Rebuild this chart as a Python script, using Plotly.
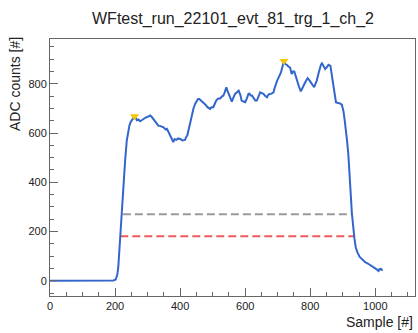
import plotly.graph_objects as go

# waveform samples (sample index, ADC counts)
wf_x = [0, 50, 100, 150, 195, 202, 207, 210, 213, 215, 218, 220, 223, 225, 228, 231, 236, 240, 244, 248,
        253, 257, 260, 264, 267, 272, 277, 282, 287, 293, 300, 308, 313, 318, 325, 333, 340, 349, 355, 359,
        364, 369, 374, 379, 383, 388, 394, 400, 407, 415, 419, 422, 429, 436, 441, 446, 451, 455, 459, 466,
        472, 478, 484, 492, 497, 502, 507, 511, 517, 523, 528, 533, 537, 542, 546, 549, 552, 556, 559, 564,
        569, 574, 580, 585, 589, 595, 600, 605, 610, 613, 617, 621, 625, 631, 636, 640, 646, 651, 656, 662,
        667, 671, 675, 681, 687, 691, 695, 699, 703, 707, 710, 713, 716, 719, 723, 728, 733, 738, 743, 747,
        751, 755, 759, 765, 771, 776, 782, 787, 792, 797, 802, 807, 812, 816, 820, 825, 829, 833, 836, 841,
        846, 851, 856, 862, 865, 867, 870, 872, 876, 879, 885, 890, 897, 902, 906, 910, 913, 917, 920, 923,
        925, 928, 933, 936, 940, 945, 952, 960, 969, 977, 985, 992, 997, 1002, 1007, 1010, 1013, 1017, 1020, 1023]
wf_y = [0, 1, -1, 0, 1, 5, 25, 57, 120, 181, 240, 270, 340, 400, 450, 490, 569, 605, 630, 645,
        657, 665, 668, 660, 652, 655, 648, 652, 658, 662, 666, 671, 665, 657, 645, 630, 628, 623, 615, 617,
        605, 590, 575, 563, 575, 572, 578, 576, 570, 572, 585, 590, 630, 678, 700, 718, 732, 738, 738, 730,
        725, 715, 705, 698, 705, 705, 720, 732, 740, 740, 748, 752, 765, 786, 770, 759, 755, 732, 728, 745,
        759, 765, 772, 755, 732, 728, 725, 740, 759, 760, 752, 752, 745, 732, 732, 748, 765, 762, 759, 750,
        745, 755, 759, 760, 765, 785, 806, 815, 826, 836, 846, 862, 880, 893, 880, 877, 870, 866, 840, 850,
        850, 830, 813, 790, 769, 785, 799, 812, 823, 815, 806, 795, 786, 800, 813, 840, 866, 878, 883, 872,
        860, 868, 877, 873, 850, 826, 806, 786, 755, 725, 722, 721, 715, 690, 650, 610, 570, 515, 461, 408,
        340, 273, 200, 170, 135, 115, 97, 85, 75, 70, 64, 58, 52, 48, 43, 40, 47, 48, 44, 45]

# peak markers
peak_x = [260, 719]
peak_y = [668, 893]

# threshold lines
gray_x = [224, 926]
gray_y = [270, 270]
red_x = [216, 936]
red_y = [181, 181]

title_text = "WFtest_run_22101_evt_81_trg_1_ch_2"
x_title = "Sample [#]"
y_title = "ADC counts [#]"

FONT = "Liberation Sans, Arial, Helvetica, sans-serif"

fig = go.Figure()
fig.add_trace(go.Scatter(x=gray_x, y=gray_y, mode="lines",
                         line=dict(color="#9a9a9a", width=2, dash="8px,4px"), hoverinfo="skip"))
fig.add_trace(go.Scatter(x=red_x, y=red_y, mode="lines",
                         line=dict(color="#f05a5a", width=2, dash="8px,4px"), hoverinfo="skip"))
fig.add_trace(go.Scatter(x=wf_x, y=wf_y, mode="lines",
                         line=dict(color="#3366cc", width=2)))
fig.add_trace(go.Scatter(x=peak_x, y=peak_y, mode="markers",
                         marker=dict(symbol="triangle-down", size=8, color="#f7c600",
                                     line=dict(width=0))))

axis_common = dict(
    showgrid=False, zeroline=False, showline=True, mirror=True,
    linecolor="#666666", linewidth=1,
    ticks="inside", ticklen=8, tickwidth=1, tickcolor="#666666",
    tickfont=dict(family=FONT, size=11, color="#222222"),
    minor=dict(ticks="inside", ticklen=4, tickwidth=1, tickcolor="#666666", dtick=50, showgrid=False),
)

fig.update_xaxes(range=[0, 1122], tick0=0, dtick=200, **axis_common)
fig.update_yaxes(range=[-62, 982], tick0=0, dtick=200, **axis_common)

fig.update_layout(
    width=418, height=333,
    margin=dict(l=50, r=3, t=39, b=37),
    paper_bgcolor="white", plot_bgcolor="white",
    showlegend=False,
    font=dict(family=FONT, color="#222222"),
    annotations=[
        dict(text=title_text, xref="paper", yref="paper", x=(232.5 - 50) / 365, y=(296 - 19) / 257,
             xanchor="center", yanchor="middle", showarrow=False,
             font=dict(family=FONT, size=16, color="#222222")),
        dict(text=y_title, xref="paper", yref="paper", x=(15 - 50) / 365, y=(296 - 35) / 257,
             xanchor="center", yanchor="top", textangle=-90, showarrow=False,
             font=dict(family=FONT, size=14, color="#222222")),
        dict(text=x_title, xref="paper", yref="paper", x=1.0, y=(296 - 322) / 257,
             xanchor="right", yanchor="middle", showarrow=False,
             font=dict(family=FONT, size=14, color="#222222")),
    ],
)

fig.write_html("out.html")
